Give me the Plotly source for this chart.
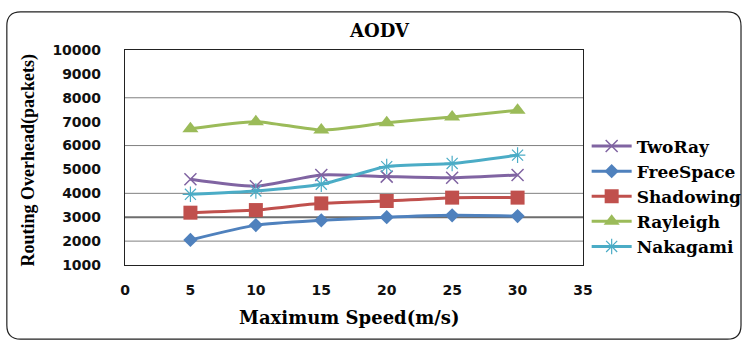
import plotly.graph_objects as go

# Maximum speed (m/s)
speeds = [5, 10, 15, 20, 25, 30]

# Routing overhead (packets) per propagation model
two_ray = [4590, 4300, 4770, 4700, 4650, 4770]
free_space = [2050, 2670, 2870, 3000, 3080, 3050]
shadowing = [3190, 3300, 3580, 3680, 3820, 3820]
rayleigh = [6700, 7000, 6650, 6950, 7200, 7480]
nakagami = [3960, 4100, 4380, 5120, 5250, 5600]

x_ticks = [0, 5, 10, 15, 20, 25, 30, 35]
y_ticks = [1000, 2000, 3000, 4000, 5000, 6000, 7000, 8000, 9000, 10000]
y_tick_labels = [str(v) for v in y_ticks]
grid_levels = [2000, 3000, 4000, 6000, 8000]

series = [
    ("TwoRay", two_ray, "#8064A2", "x-thin-open", 12, 1.5),
    ("FreeSpace", free_space, "#4F81BD", "diamond", 11, 0),
    ("Shadowing", shadowing, "#C0504D", "square", 14, 0),
    ("Rayleigh", rayleigh, "#9BBB59", "triangle-up", 14, 0),
    ("Nakagami", nakagami, "#4BACC6", "asterisk-open", 13, 1.2),
]

fig = go.Figure()

for name, vals, color, symbol, size, mlw in series:
    fig.add_trace(go.Scatter(
        x=speeds, y=vals, name=name, mode="lines+markers",
        line=dict(color=color, width=3, shape="spline", smoothing=0.6),
        marker=dict(symbol=symbol, size=size, color=color,
                    line=dict(color=color, width=mlw)),
    ))

# Horizontal gridlines
for g in grid_levels:
    fig.add_shape(type="line", xref="paper", yref="y", x0=0, x1=1, y0=g, y1=g,
                  line=dict(color="#808080" if g != 3000 else "#6e6e6e",
                            width=1 if g != 3000 else 2),
                  layer="below")

# Rounded outer frame around the whole chart
x0, x1, y0, y1 = -0.258, 1.345, -0.345, 1.177
rx, ry = 0.03, 0.065
frame = (f"M {x0+rx},{y1} L {x1-rx},{y1} Q {x1},{y1} {x1},{y1-ry} "
         f"L {x1},{y0+ry} Q {x1},{y0} {x1-rx},{y0} "
         f"L {x0+rx},{y0} Q {x0},{y0} {x0},{y0+ry} "
         f"L {x0},{y1-ry} Q {x0},{y1} {x0+rx},{y1} Z")
fig.add_shape(type="path", xref="paper", yref="paper", path=frame,
              line=dict(color="#222222", width=1.2))

tick_font = dict(family="DejaVu Sans", size=14, color="#111111", weight="bold")
serif_bold = dict(family="DejaVu Serif", color="#000000", weight="bold")

fig.update_layout(
    width=744, height=342,
    margin=dict(l=125, r=161, t=50, b=77, autoexpand=False),
    paper_bgcolor="white", plot_bgcolor="white",
    showlegend=True,
    legend=dict(x=1.008, y=0.635, xanchor="left", yanchor="top",
                font=dict(family="DejaVu Serif", size=17, color="#000000", weight="bold"),
                itemwidth=40, tracegroupgap=0, bgcolor="rgba(0,0,0,0)"),
    xaxis=dict(range=[0, 35], tickvals=x_ticks, showgrid=False, zeroline=False,
               showline=True, linecolor="#222222", linewidth=1.2, mirror=True,
               ticks="", tickfont=tick_font, ticklabelstandoff=12),
    yaxis=dict(range=[1000, 10000], tickvals=y_ticks, ticktext=y_tick_labels,
               showgrid=False, zeroline=False,
               showline=True, linecolor="#222222", linewidth=1.2, mirror=True,
               ticks="", tickfont=tick_font, ticklabelstandoff=20),
    annotations=[
        dict(text="AODV", xref="paper", yref="paper", x=0.555, y=1.09,
             xanchor="center", yanchor="middle", showarrow=False,
             font=dict(size=18, **serif_bold)),
        dict(text="Maximum Speed(m/s)", xref="paper", yref="paper", x=0.49, y=-0.245,
             xanchor="center", yanchor="middle", showarrow=False,
             font=dict(size=18, **serif_bold)),
        dict(text="Routing Overhead(packets)", xref="paper", yref="paper",
             x=-0.21, y=0.49, xanchor="center", yanchor="middle", showarrow=False,
             textangle=-90,
             font=dict(family="Liberation Serif", size=18, color="#000000", weight="bold")),
    ],
)

fig.write_html("out.html")
